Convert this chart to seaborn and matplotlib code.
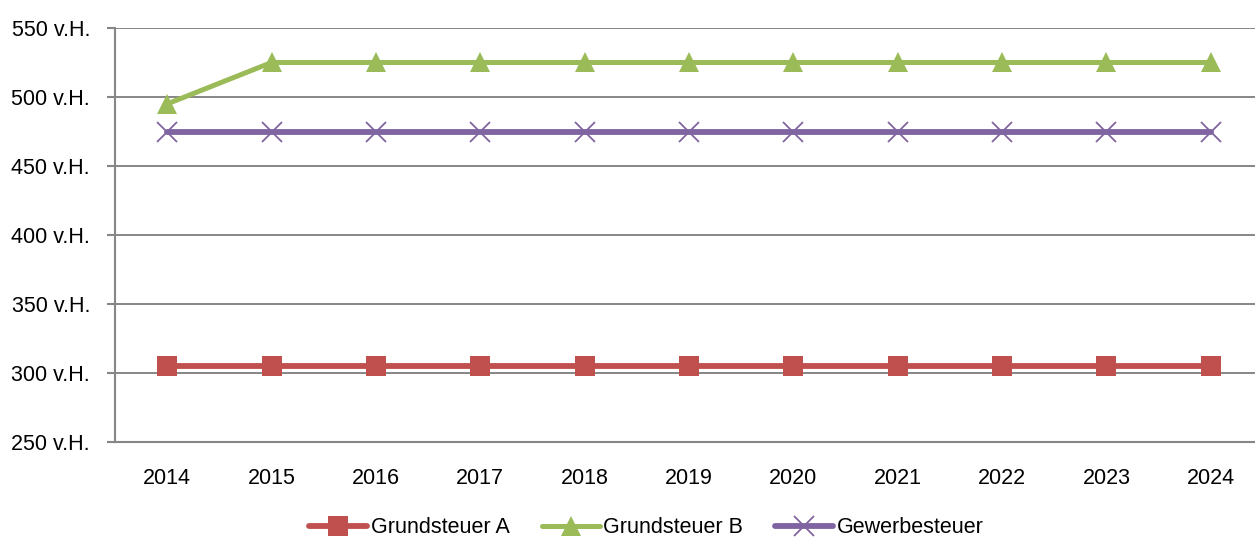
import matplotlib
matplotlib.use("Agg")
import matplotlib.pyplot as plt
from matplotlib.lines import Line2D
import numpy as np
import pandas as pd
import seaborn as sns

years = ["2014", "2015", "2016", "2017", "2018", "2019", "2020", "2021", "2022", "2023", "2024"]
grundsteuer_a = [305, 305, 305, 305, 305, 305, 305, 305, 305, 305, 305]
grundsteuer_b = [495, 525, 525, 525, 525, 525, 525, 525, 525, 525, 525]
gewerbesteuer = [475, 475, 475, 475, 475, 475, 475, 475, 475, 475, 475]
series_names = ["Grundsteuer A", "Grundsteuer B", "Gewerbesteuer"]
y_ticks = [250, 300, 350, 400, 450, 500, 550]

sns.set_theme(style="white")
plt.rcParams["font.family"] = ["Liberation Sans", "DejaVu Sans"]
plt.rcParams["text.color"] = "black"
tick_size, legend_size = 15.5, 15.5

df = pd.DataFrame({
    "pos": np.tile(np.arange(len(years)), 3),
    "value": grundsteuer_a + grundsteuer_b + gewerbesteuer,
    "series": np.repeat(series_names, len(years)),
})

fig = plt.figure(figsize=(12.55, 5.42), dpi=100)
ax = fig.add_axes([115 / 1255, 100 / 542, 1148 / 1255, 414 / 542])

styles = {
    "Grundsteuer A": dict(color="#C0504D", marker="s", lw=4.2, ms=14.5, mew=0),
    "Grundsteuer B": dict(color="#9BBB59", marker="^", lw=3.6, ms=15, mew=0),
    "Gewerbesteuer": dict(color="#8064A2", marker="x", lw=4.2, ms=14, mew=1.3),
}

for name in series_names:
    st = styles[name]
    sub = df[df["series"] == name]
    sns.lineplot(data=sub, x="pos", y="value", ax=ax, color=st["color"],
                 linewidth=st["lw"], marker=st["marker"], markersize=st["ms"],
                 markeredgewidth=st["mew"], markeredgecolor=st["color"],
                 legend=False, zorder=3)

ax.set_xlim(-0.5, len(years) - 0.5)
ax.set_ylim(250, 550)
ax.set_yticks(y_ticks)
ax.set_yticklabels([f"{v} v.H." for v in y_ticks], fontsize=tick_size, color="black")
ax.set_xticks(np.arange(len(years)))
ax.set_xticklabels(years, fontsize=tick_size, color="black")
ax.set_xticks(np.arange(len(years) + 1) - 0.5, minor=True)
ax.tick_params(axis="x", which="major", length=0, pad=19)
ax.tick_params(axis="x", which="minor", length=6, width=1.5, color="#868686", direction="out")
ax.tick_params(axis="y", length=6, width=1.5, color="#868686", direction="out", pad=12,
               left=True)

ax.grid(axis="y", color="#868686", linewidth=1.4)
ax.grid(axis="x", visible=False)
ax.set_axisbelow(True)
for side in ["top", "right"]:
    ax.spines[side].set_visible(False)
for side in ["left", "bottom"]:
    ax.spines[side].set_color("#868686")
    ax.spines[side].set_linewidth(1.5)
ax.set_xlabel("")
ax.set_ylabel("")

handles = []
for name in series_names:
    st = styles[name]
    handles.append(Line2D([], [], color=st["color"], marker=st["marker"], lw=st["lw"],
                          markersize=st["ms"], markeredgewidth=st["mew"],
                          markeredgecolor=st["color"]))
fig.legend(handles, series_names, loc="center", bbox_to_anchor=(0.515, 0.026), ncol=3,
           frameon=False, fontsize=legend_size, handlelength=2.7, handletextpad=0.15,
           columnspacing=1.5, labelcolor="black")

fig.savefig("out.png", dpi=100)
